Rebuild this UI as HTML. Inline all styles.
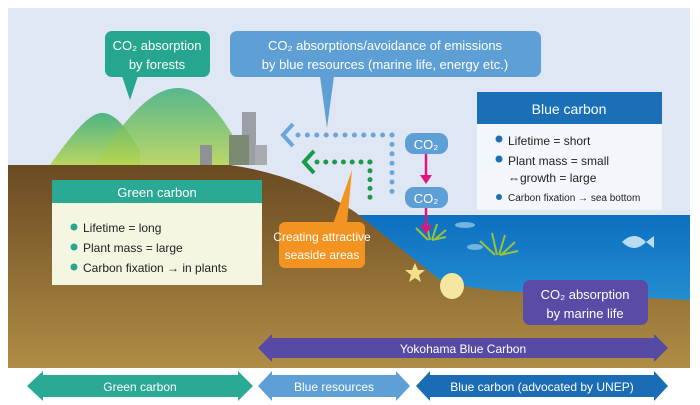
<!DOCTYPE html>
<html><head><meta charset="utf-8"><style>
html,body{margin:0;padding:0;background:#fff;}
svg{display:block;font-family:"Liberation Sans",sans-serif;}
</style></head><body>
<svg width="700" height="405" viewBox="0 0 700 405" xmlns="http://www.w3.org/2000/svg">
<defs>
<linearGradient id="hill" x1="0" y1="0" x2="0" y2="1"><stop offset="0" stop-color="#3fae7a"/><stop offset="1" stop-color="#b5d450"/></linearGradient>
<linearGradient id="sea" x1="0" y1="0" x2="0" y2="1"><stop offset="0" stop-color="#0d6fc0"/><stop offset="1" stop-color="#35a6dd"/></linearGradient>
<linearGradient id="soil" x1="0" y1="0" x2="0" y2="1"><stop offset="0" stop-color="#6a4a22"/><stop offset="1" stop-color="#b08d45"/></linearGradient>
</defs>
<rect x="8" y="8" width="682" height="360" fill="#dfe6f4"/>
<!-- hills -->
<path d="M50 165 C75 130 90 113 102 113 C118 113 130 135 140 150 L140 165 Z" fill="url(#hill)" opacity="0.9"/>
<path d="M95 165 C130 110 155 88 178 88 C205 88 225 120 250 165 Z" fill="url(#hill)" opacity="0.85"/>
<!-- buildings -->
<rect x="242" y="112" width="14" height="53" fill="#9aa0a6"/>
<rect x="229" y="135" width="20" height="30" fill="#7d8a72"/>
<rect x="255" y="145" width="12" height="20" fill="#a8acb0"/>
<rect x="200" y="145" width="12" height="20" fill="#8e9290"/>
<!-- sea -->
<rect x="355" y="215" width="335" height="153" fill="url(#sea)"/>
<!-- soil -->
<path d="M8 165 L230 165 Q300 175 355 212 L440 280 Q480 292 530 292 L690 300 L690 368 L8 368 Z" fill="url(#soil)"/>
<!-- plants -->
<g stroke="#9ac23a" stroke-width="2" fill="none">
<path d="M428 240 l-12 -12 M430 240 l-4 -18 M432 240 l5 -16 M434 240 l12 -10 M432 240 l14 -3"/>
<path d="M495 255 l-15 -14 M497 255 l-5 -22 M499 255 l6 -20 M501 255 l14 -13 M500 255 l18 -4"/>
</g>
<polygon points="415,263 418,270 425,270 419,275 421,282 415,278 409,282 411,275 405,270 412,270" fill="#f3e08a"/>
<ellipse cx="452" cy="286" rx="12" ry="13" fill="#f5e6a0"/>
<ellipse cx="465" cy="225" rx="10" ry="3" fill="#6fb5e0"/>
<ellipse cx="475" cy="247" rx="8" ry="3" fill="#6fb5e0"/>
<path d="M622 242 q12 -12 24 0 l8 -6 v12 l-8 -6 q-12 12 -24 0z" fill="#b8dcf2"/>
<!-- bubbles -->
<rect x="105" y="31" width="105" height="46" rx="7" fill="#26a68f"/>
<polygon points="122,76 138,76 130,100" fill="#26a68f"/>
<text x="157" y="50" font-size="13" fill="#fff" text-anchor="middle">CO₂ absorption</text>
<text x="157" y="69" font-size="13" fill="#fff" text-anchor="middle">by forests</text>
<rect x="230" y="31" width="311" height="46" rx="7" fill="#5e9fd6"/>
<polygon points="320,76 334,76 327,128" fill="#5e9fd6"/>
<text x="385" y="50" font-size="13" fill="#fff" text-anchor="middle">CO₂ absorptions/avoidance of emissions</text>
<text x="385" y="69" font-size="13" fill="#fff" text-anchor="middle">by blue resources (marine life, energy etc.)</text>
<!-- dotted arrows -->
<line x1="298" y1="135" x2="392" y2="135" stroke="#6aa6db" stroke-width="5" stroke-linecap="round" stroke-dasharray="0 9.4"/>
<line x1="392" y1="135" x2="392" y2="200" stroke="#6aa6db" stroke-width="5" stroke-linecap="round" stroke-dasharray="0 9.4"/>
<polyline points="293,124 283,135 293,146" fill="none" stroke="#6aa6db" stroke-width="4"/>
<line x1="317" y1="162" x2="370" y2="162" stroke="#1a9a4a" stroke-width="5" stroke-linecap="round" stroke-dasharray="0 8.8"/>
<line x1="370" y1="162" x2="370" y2="202" stroke="#1a9a4a" stroke-width="5" stroke-linecap="round" stroke-dasharray="0 8.8"/>
<polyline points="314,151 304,162 314,173" fill="none" stroke="#1a9a4a" stroke-width="4"/>
<!-- CO2 pills -->
<rect x="405" y="133" width="43" height="21" rx="9" fill="#5e9fd6"/>
<text x="426" y="149" font-size="13" fill="#fff" text-anchor="middle">CO₂</text>
<rect x="405" y="187" width="43" height="21" rx="9" fill="#5e9fd6"/>
<text x="426" y="203" font-size="13" fill="#fff" text-anchor="middle">CO₂</text>
<line x1="426" y1="154" x2="426" y2="176" stroke="#e0157f" stroke-width="2.5"/>
<polygon points="420,175 432,175 426,184" fill="#e0157f"/>
<line x1="426" y1="208" x2="426" y2="226" stroke="#e0157f" stroke-width="2.5"/>
<polygon points="420,225 432,225 426,234" fill="#e0157f"/>
<!-- orange -->
<polygon points="333,224 347,224 352,170" fill="#f39322"/>
<rect x="279" y="222" width="86" height="46" rx="6" fill="#f39322"/>
<text x="322" y="241" font-size="12" fill="#fff" text-anchor="middle">Creating attractive</text>
<text x="322" y="259" font-size="12" fill="#fff" text-anchor="middle">seaside areas</text>
<!-- green carbon box -->
<rect x="52" y="180" width="210" height="105" fill="#f4f6e2"/>
<rect x="52" y="180" width="210" height="23" fill="#2aa994"/>
<text x="157" y="197" font-size="13" fill="#fff" text-anchor="middle">Green carbon</text>
<g font-size="12" fill="#222">
<circle cx="74" cy="227" r="3.5" fill="#26a68f"/><text x="83" y="232">Lifetime = long</text>
<circle cx="74" cy="247" r="3.5" fill="#26a68f"/><text x="83" y="252">Plant mass = large</text>
<circle cx="74" cy="267" r="3.5" fill="#26a68f"/><text x="83" y="272">Carbon fixation → in plants</text>
</g>
<!-- blue carbon box -->
<rect x="477" y="92" width="185" height="118" fill="#f3f6fb"/>
<rect x="477" y="92" width="185" height="32" fill="#1a6fb7"/>
<text x="569" y="114" font-size="14" fill="#fff" text-anchor="middle">Blue carbon</text>
<g font-size="12" fill="#222">
<circle cx="499" cy="139" r="3.5" fill="#1a6fb7"/><text x="508" y="145">Lifetime = short</text>
<circle cx="499" cy="159" r="3.5" fill="#1a6fb7"/><text x="508" y="165">Plant mass = small</text>
<text x="508" y="182">⇔growth = large</text>
<circle cx="499" cy="197" r="3" fill="#1a6fb7"/><text x="508" y="201" font-size="10">Carbon fixation → sea bottom</text>
</g>
<!-- purple box -->
<rect x="523" y="280" width="125" height="45" rx="7" fill="#5a4ba6"/>
<text x="585" y="299" font-size="13" fill="#fff" text-anchor="middle">CO₂ absorption</text>
<text x="585" y="318" font-size="13" fill="#fff" text-anchor="middle">by marine life</text>
<!-- Yokohama arrow -->
<polygon points="258,348 272,334 272,338 654,338 654,334 668,348 654,362 654,358 272,358 272,362" fill="#574aa4"/>
<text x="463" y="353" font-size="12" fill="#fff" text-anchor="middle">Yokohama Blue Carbon</text>
<!-- bottom arrows -->
<polygon points="27,386 43,371 43,375 238,375 238,371 253,386 238,401 238,397 43,397 43,401" fill="#2aa994"/>
<text x="140" y="391" font-size="12" fill="#fff" text-anchor="middle">Green carbon</text>
<polygon points="258,386 272,371 272,375 396,375 396,371 410,386 396,401 396,397 272,397 272,401" fill="#5e9fd6"/>
<text x="334" y="391" font-size="12" fill="#fff" text-anchor="middle">Blue resources</text>
<polygon points="416,386 430,371 430,375 654,375 654,371 668,386 654,401 654,397 430,397 430,401" fill="#1a6db5"/>
<text x="542" y="391" font-size="12" fill="#fff" text-anchor="middle">Blue carbon (advocated by UNEP)</text>
</svg>
</body></html>
